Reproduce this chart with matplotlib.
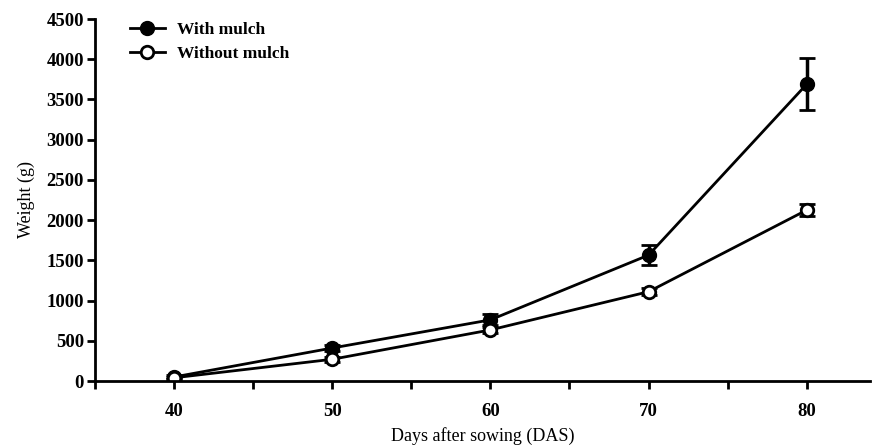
import matplotlib
matplotlib.use("Agg")
import matplotlib.pyplot as plt
from matplotlib.ticker import MultipleLocator
from matplotlib.lines import Line2D

plt.rcParams['font.family'] = ['Liberation Serif', 'DejaVu Serif']

days = [40, 50, 60, 70, 80]
with_mulch = [50, 410, 760, 1565, 3690]
with_err = [20, 40, 70, 120, 320]
without_mulch = [40, 270, 635, 1110, 2125]
without_err = [15, 30, 40, 40, 80]

fig = plt.figure(figsize=(8.85, 4.47), dpi=100)
ax = fig.add_axes([95/885, 1-381/447, 775/885, 362/447])

ax.errorbar(days, with_mulch, yerr=with_err, color='black', marker='o', ms=10,
            mfc='black', mec='black', lw=2, capsize=6, capthick=2, elinewidth=2.5)
ax.errorbar(days, without_mulch, yerr=without_err, color='black', marker='o', ms=9,
            mfc='white', mec='black', mew=2, lw=2, capsize=6, capthick=2, elinewidth=2.5)

ax.set_xlim(35, 84)
ax.set_ylim(0, 4500)
ax.set_xticks(days)
ax.xaxis.set_minor_locator(MultipleLocator(5))
ax.yaxis.set_major_locator(MultipleLocator(500))
for s in ['top', 'right']:
    ax.spines[s].set_visible(False)
for s in ['left', 'bottom']:
    ax.spines[s].set_linewidth(2)
ax.tick_params(axis='both', which='major', width=2, length=6, labelsize=13.5)
ax.tick_params(axis='x', which='minor', width=2, length=6)
ax.tick_params(axis='x', pad=10)
ax.tick_params(axis='y', pad=2)
for lbl in ax.get_xticklabels() + ax.get_yticklabels():
    lbl.set_fontweight('bold')

ax.set_xlabel('Days after sowing (DAS)', fontsize=13, labelpad=5)
ax.set_ylabel('Weight (g)', fontsize=13, labelpad=8)

handles = [
    Line2D([], [], color='black', lw=2, marker='o', ms=10, mfc='black', mec='black'),
    Line2D([], [], color='black', lw=2, marker='o', ms=9, mfc='white', mec='black', mew=2),
]
ax.legend(handles, ['With mulch', 'Without mulch'], loc='upper left',
          bbox_to_anchor=(0.025, 1.035), frameon=False, handlelength=2.0,
          handletextpad=0.7, labelspacing=0.45,
          prop={'weight': 'bold', 'size': 12.5})

fig.savefig('out.png', dpi=100)
